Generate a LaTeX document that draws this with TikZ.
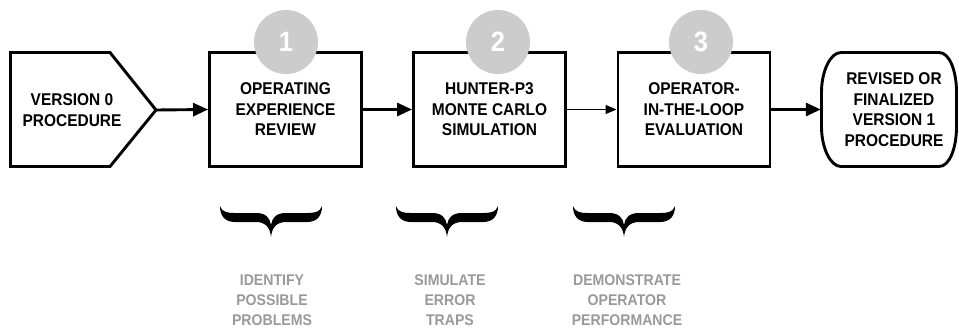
\documentclass[tikz,border=0pt]{standalone}
\usepackage{fontspec}
\setmainfont{Liberation Sans}
\newfontfamily\hbold{Liberation Sans Bold}[FakeStretch=0.91]
\usetikzlibrary{arrows.meta}
\definecolor{circgrey}{HTML}{CCCCCC}
\definecolor{labgrey}{HTML}{999999}
\tikzset{
  boxline/.style={line width=2.9pt, line join=miter},
  stepbox/.style={draw, boxline, minimum width=152pt, minimum height=114pt, align=center,
    inner sep=0pt, font=\hbold\fontsize{17}{20.5}\selectfont},
  plaintext/.style={align=center, inner sep=0pt, font=\hbold\fontsize{17}{20.5}\selectfont},
  numcirc/.style={circle, fill=circgrey, minimum size=64pt, inner sep=0pt, text=white,
    font=\hbold\fontsize{28}{28}\selectfont},
  greylabel/.style={align=center, inner sep=0pt, text=labgrey,
    font=\hbold\fontsize{15.5}{20}\selectfont},
  thickarrow/.style={line width=2.9pt, -{Triangle[length=15pt,width=13pt]}},
  thinarrow/.style={line width=1.3pt, -{Triangle[length=11pt,width=9pt]}},
  curlybrace/.pic={
    \fill (-51,0) .. controls (-51,10) and (-46,16) .. (-36,16) -- (-15,16)
      .. controls (-6,16) and (-1,21) .. (0,31)
      .. controls (1,21) and (6,16) .. (15,16) -- (36,16)
      .. controls (46,16) and (51,10) .. (51,0)
      .. controls (49,6) and (44,7) .. (36,7) -- (15,7)
      .. controls (5,7) and (1,12) .. (0,19)
      .. controls (-1,12) and (-5,7) .. (-15,7) -- (-36,7)
      .. controls (-44,7) and (-49,6) .. (-51,0) -- cycle;
  }
}
\begin{document}
\begin{tikzpicture}[x=1pt,y=-1pt]
\useasboundingbox (0,0) rectangle (959,334);

% Version 0 pentagon
\draw[boxline] (10.5,52.5) -- (110,52.5) -- (156,110) -- (110,166.5) -- (10.5,166.5) -- cycle;
\coordinate (v0tip) at (156,110);
\node[plaintext] (v0) at (72,110) {VERSION 0\\PROCEDURE};

% step boxes
\node[stepbox] (b1) at (285.5,109.5) {OPERATING\\EXPERIENCE\\REVIEW};
\node[stepbox] (b2) at (489.5,109.5) {HUNTER-P3\\MONTE CARLO\\SIMULATION};
\node[stepbox] (b3) at (694,109.5) {OPERATOR-\\IN-THE-LOOP\\EVALUATION};

% numbered circles
\node[numcirc] (c1) at (286,42) {1};
\node[numcirc] (c2) at (498,42) {2};
\node[numcirc] (c3) at (701,42) {3};

% final terminal shape
\draw[boxline] (841,52.5) -- (939,52.5)
  .. controls (950,52.5) and (956.5,72) .. (956.5,92) -- (956.5,127)
  .. controls (956.5,147) and (950,166.5) .. (939,166.5) -- (841,166.5)
  .. controls (830,166.5) and (821.5,147) .. (821.5,127) -- (821.5,92)
  .. controls (821.5,72) and (830,52.5) .. (841,52.5) -- cycle;
\node[plaintext, minimum width=136pt, minimum height=114pt] (fin) at (889,109.5)
  {\hspace*{10pt}REVISED OR\\\hspace*{10pt}FINALIZED\\\hspace*{10pt}VERSION 1\\\hspace*{10pt}PROCEDURE};

% connectors
\draw[thickarrow] (v0tip) -- (b1.west);
\draw[thickarrow] (b1.east) -- (b2.west);
\draw[thinarrow] (b2.east) -- (b3.west);
\draw[thickarrow] (b3.east) -- (fin.west);

% braces
\pic at (271,206) {curlybrace};
\pic at (447,206) {curlybrace};
\pic at (624,206) {curlybrace};

% bottom labels
\node[greylabel] (l1) at (272,300) {IDENTIFY\\POSSIBLE\\PROBLEMS};
\node[greylabel] (l2) at (450,300) {SIMULATE\\ERROR\\TRAPS};
\node[greylabel] (l3) at (627,300) {DEMONSTRATE\\OPERATOR\\PERFORMANCE};
\end{tikzpicture}
\end{document}
